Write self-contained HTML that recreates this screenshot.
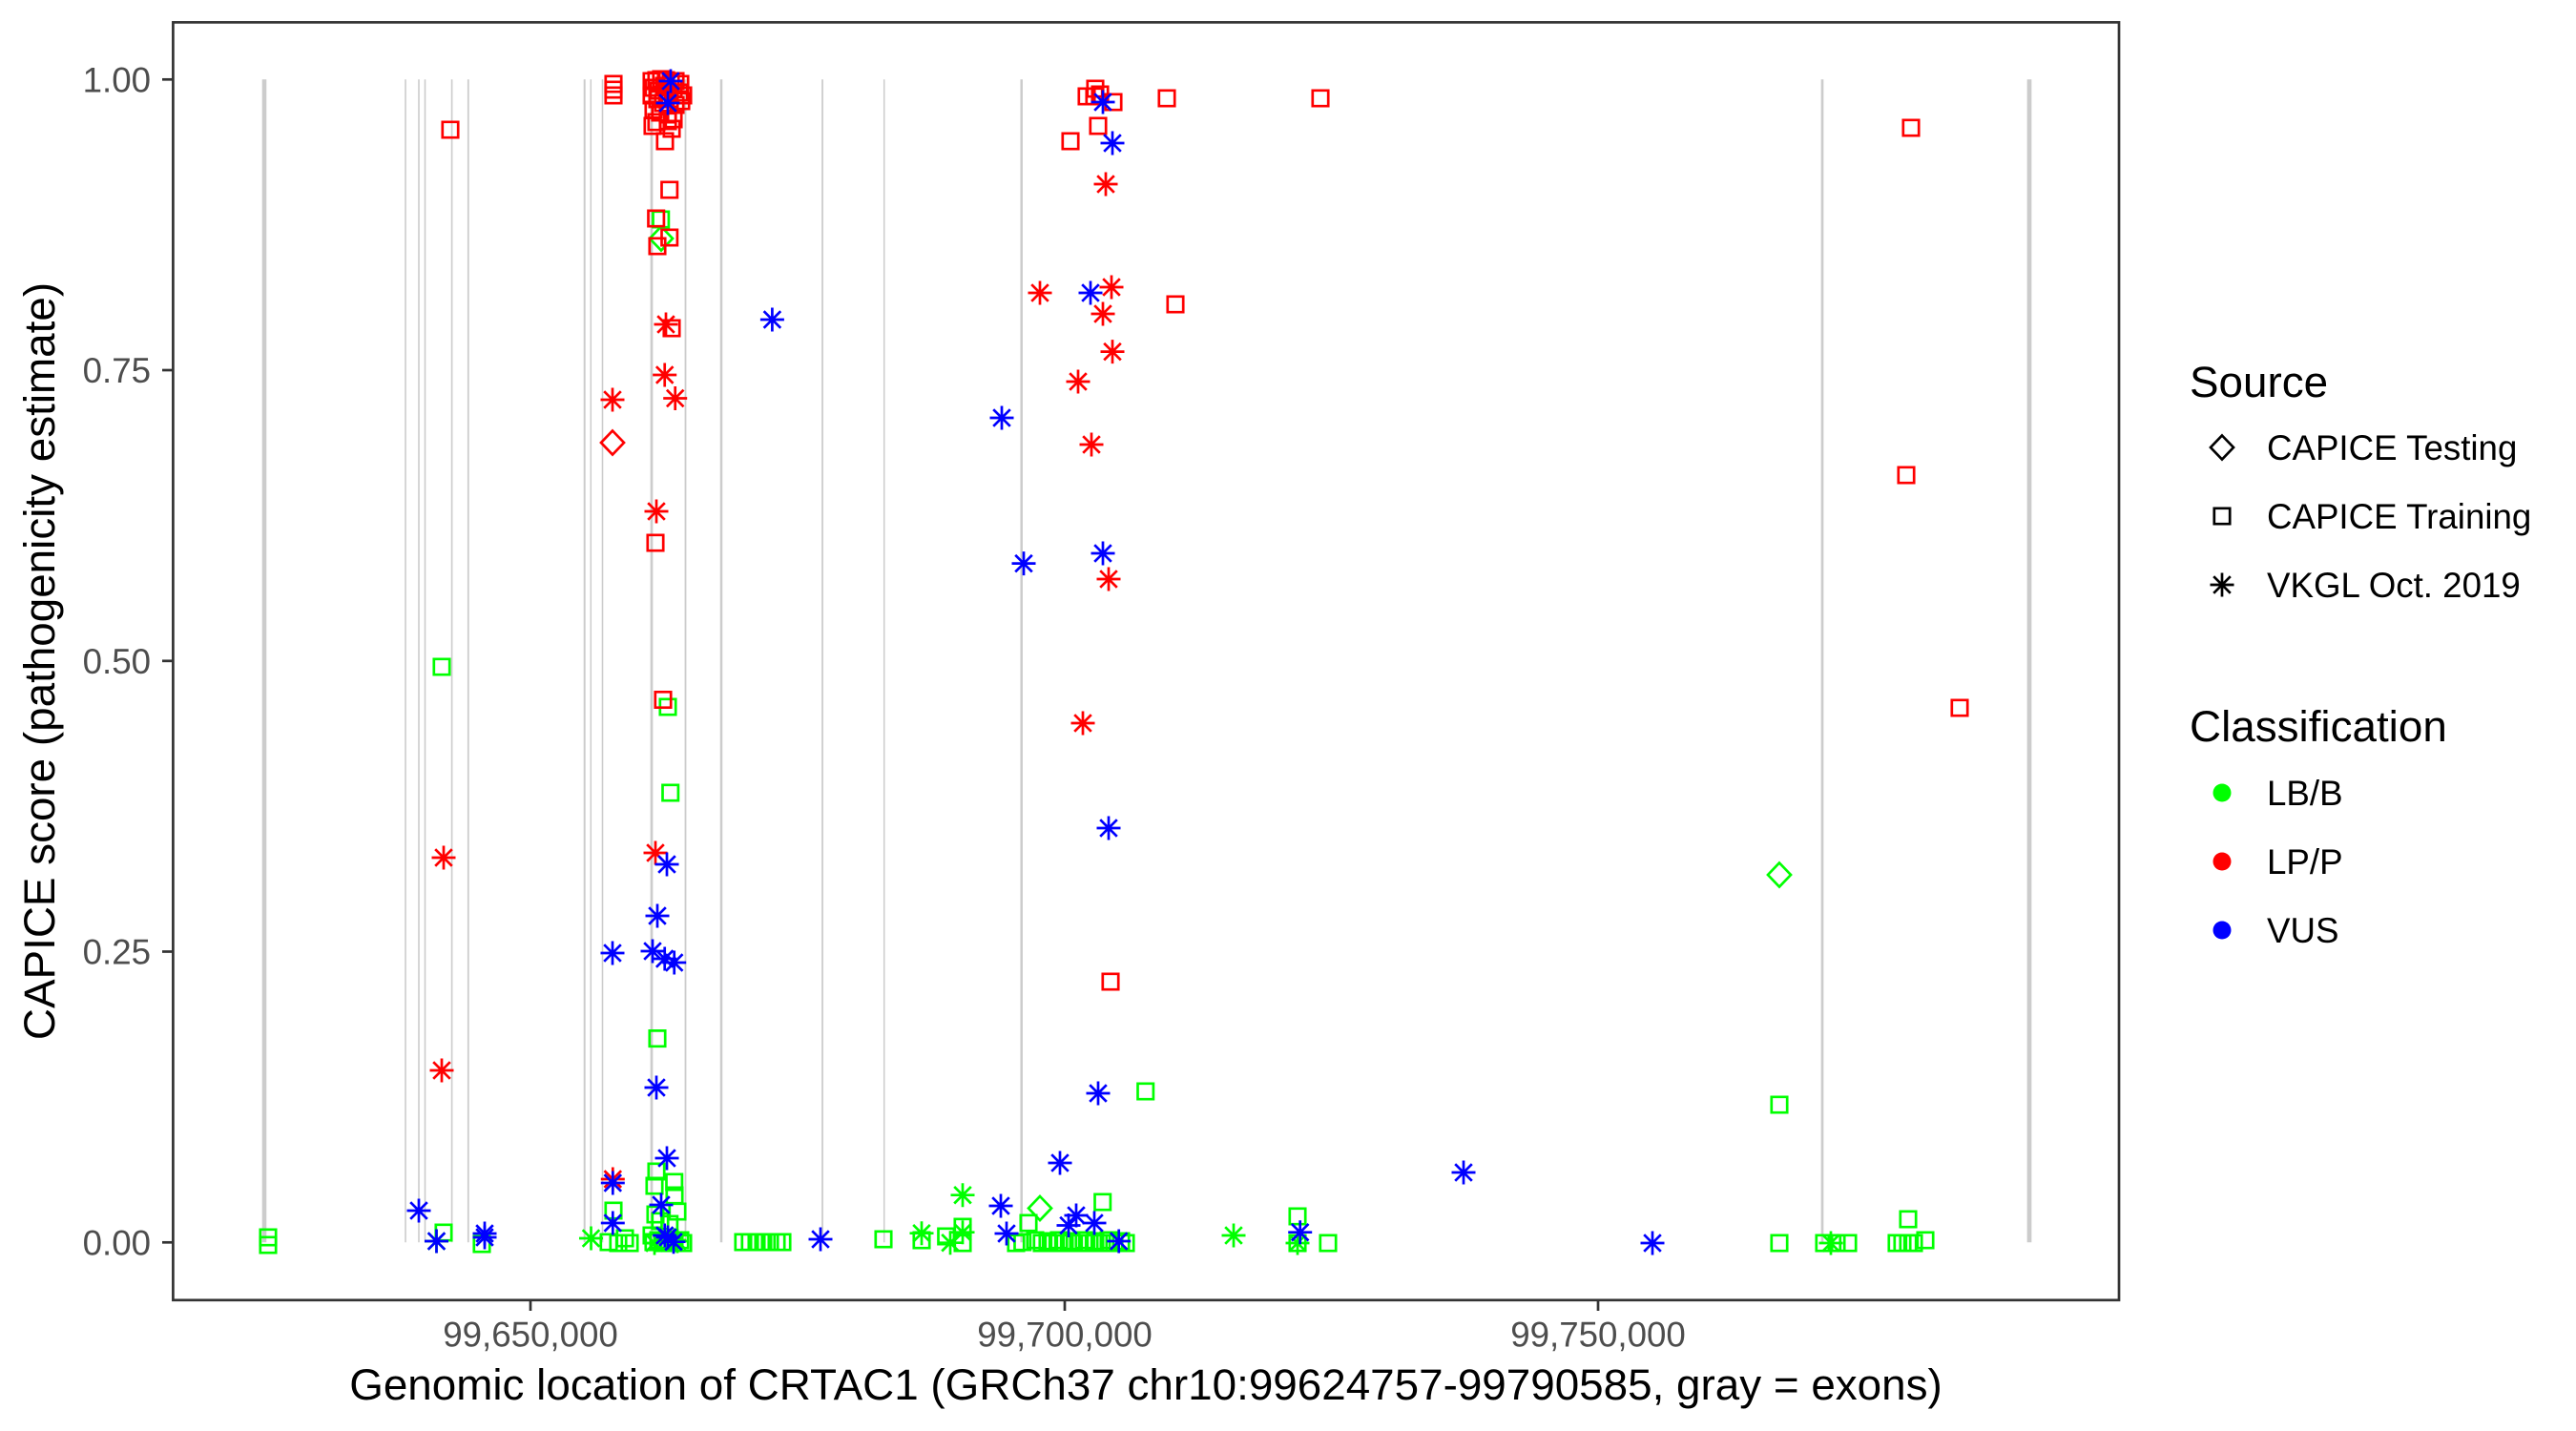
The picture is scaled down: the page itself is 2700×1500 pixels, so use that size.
<!DOCTYPE html>
<html><head><meta charset="utf-8"><style>
html,body{margin:0;padding:0;background:#fff;}
svg{display:block;font-family:"Liberation Sans",Arial,sans-serif;}
</style></head><body>
<svg width="2700" height="1500" viewBox="0 0 2700 1500" xmlns="http://www.w3.org/2000/svg">
<defs>
<path id="sq" d="M-8.2,-8.2h16.4v16.4h-16.4z" fill="none"/>
<path id="as" d="M-12.5,0H12.5M0,-12.5V12.5M-8.8,-8.8L8.8,8.8M-8.8,8.8L8.8,-8.8" fill="none"/>
<path id="di" d="M0,-12.5L12,0L0,12.5L-12,0Z" fill="none"/>
</defs>
<rect x="0" y="0" width="2700" height="1500" fill="#fff"/>
<!-- exons -->
<g stroke="#cccccc" fill="none">
<line x1="277" y1="83.3" x2="277" y2="1302.3" stroke-width="4.6"/>
<line x1="425" y1="83.3" x2="425" y2="1302.3" stroke-width="1.6"/>
<line x1="439" y1="83.3" x2="439" y2="1302.3" stroke-width="1.6"/>
<line x1="445.5" y1="83.3" x2="445.5" y2="1302.3" stroke-width="1.6"/>
<line x1="473.6" y1="83.3" x2="473.6" y2="1302.3" stroke-width="1.6"/>
<line x1="490.8" y1="83.3" x2="490.8" y2="1302.3" stroke-width="1.8"/>
<line x1="612.7" y1="83.3" x2="612.7" y2="1302.3" stroke-width="2"/>
<line x1="619.3" y1="83.3" x2="619.3" y2="1302.3" stroke-width="1.5"/>
<line x1="631.5" y1="83.3" x2="631.5" y2="1302.3" stroke-width="1.6"/>
<line x1="683" y1="83.3" x2="683" y2="1302.3" stroke-width="2.7"/>
<line x1="718.5" y1="83.3" x2="718.5" y2="1302.3" stroke-width="1.8"/>
<line x1="756" y1="83.3" x2="756" y2="1302.3" stroke-width="2.5"/>
<line x1="862" y1="83.3" x2="862" y2="1302.3" stroke-width="1.8"/>
<line x1="926.7" y1="83.3" x2="926.7" y2="1302.3" stroke-width="1.5"/>
<line x1="1070.7" y1="83.3" x2="1070.7" y2="1302.3" stroke-width="2.5"/>
<line x1="1910" y1="83.3" x2="1910" y2="1302.3" stroke-width="2.7"/>
<line x1="2127" y1="83.3" x2="2127" y2="1302.3" stroke-width="4.7"/>
</g>
<!-- green points -->
<g stroke="#00ff00" stroke-width="2.7" fill="none">
<use href="#sq" x="281" y="1297"/><use href="#sq" x="281" y="1305"/>
<use href="#sq" x="463" y="699"/>
<use href="#sq" x="465" y="1292"/><use href="#sq" x="505" y="1304"/>
<use href="#sq" x="643" y="1269"/><use href="#sq" x="638" y="1302"/><use href="#sq" x="648" y="1303"/><use href="#sq" x="655" y="1298"/><use href="#sq" x="660" y="1303"/>
<use href="#sq" x="692.7" y="230"/>
<use href="#sq" x="700" y="741"/><use href="#sq" x="702.7" y="831"/><use href="#sq" x="689" y="1088.6"/>
<use href="#sq" x="688" y="1228"/><use href="#sq" x="686" y="1243"/><use href="#sq" x="706.7" y="1239"/><use href="#sq" x="707" y="1253"/><use href="#sq" x="687" y="1273"/><use href="#sq" x="710" y="1270"/><use href="#sq" x="692" y="1280"/><use href="#sq" x="701.7" y="1283"/><use href="#sq" x="683" y="1295"/><use href="#sq" x="685" y="1302"/><use href="#sq" x="707" y="1300"/><use href="#sq" x="713" y="1300"/><use href="#sq" x="695" y="1303"/><use href="#sq" x="700" y="1301"/><use href="#sq" x="690" y="1300"/><use href="#sq" x="716" y="1303"/>
<use href="#sq" x="779" y="1302"/><use href="#sq" x="786" y="1302"/><use href="#sq" x="793" y="1302"/><use href="#sq" x="800" y="1302"/><use href="#sq" x="807" y="1302"/><use href="#sq" x="814" y="1302"/><use href="#sq" x="820" y="1302"/>
<use href="#sq" x="926" y="1299"/><use href="#sq" x="966" y="1300"/><use href="#sq" x="991.7" y="1296"/><use href="#sq" x="1009" y="1286"/><use href="#sq" x="1009" y="1303"/>
<use href="#sq" x="1071.7" y="1302"/><use href="#sq" x="1078" y="1282"/>
<use href="#sq" x="1065" y="1303"/><use href="#sq" x="1085" y="1300"/><use href="#sq" x="1092" y="1303"/><use href="#sq" x="1098" y="1301"/><use href="#sq" x="1104" y="1303"/><use href="#sq" x="1110" y="1300"/><use href="#sq" x="1116" y="1303"/><use href="#sq" x="1123" y="1301"/><use href="#sq" x="1130" y="1303"/><use href="#sq" x="1136" y="1300"/><use href="#sq" x="1142" y="1303"/><use href="#sq" x="1148" y="1301"/><use href="#sq" x="1155" y="1303"/><use href="#sq" x="1162" y="1300"/><use href="#sq" x="1168" y="1303"/><use href="#sq" x="1175" y="1301"/><use href="#sq" x="1180" y="1303"/>
<use href="#sq" x="1155.7" y="1260"/><use href="#sq" x="1200.7" y="1144"/>
<use href="#sq" x="1360" y="1275"/><use href="#sq" x="1360" y="1303"/><use href="#sq" x="1392" y="1303"/>
<use href="#sq" x="1865" y="1158"/><use href="#sq" x="1865" y="1303"/><use href="#sq" x="1912" y="1303"/><use href="#sq" x="1925" y="1303"/><use href="#sq" x="1937" y="1303"/>
<use href="#sq" x="2000" y="1278"/><use href="#sq" x="1988" y="1303"/><use href="#sq" x="1994" y="1303"/><use href="#sq" x="2000" y="1303"/><use href="#sq" x="2006" y="1303"/><use href="#sq" x="2018" y="1300"/>
<use href="#as" x="457.5" y="1301"/><use href="#as" x="619.5" y="1298"/><use href="#as" x="686" y="1303"/><use href="#as" x="706.7" y="1300"/><use href="#as" x="710" y="1301"/><use href="#as" x="966" y="1292.7"/><use href="#as" x="996" y="1302.7"/><use href="#as" x="1009" y="1291.7"/><use href="#as" x="1009" y="1252.7"/><use href="#as" x="1293" y="1295"/><use href="#as" x="1360" y="1303"/><use href="#as" x="1919" y="1303"/>
<use href="#di" x="693" y="250"/><use href="#di" x="1090" y="1266.5"/><use href="#di" x="1865" y="917"/>
</g>
<!-- red points -->
<g stroke="#ff0000" stroke-width="2.7" fill="none">
<use href="#sq" x="472" y="136"/><use href="#sq" x="643" y="88"/><use href="#sq" x="643" y="94"/><use href="#sq" x="643" y="100"/>
<use href="#sq" x="683" y="85"/><use href="#sq" x="688" y="84"/><use href="#sq" x="693" y="83"/><use href="#sq" x="698" y="84"/><use href="#sq" x="703" y="86"/><use href="#sq" x="708" y="85"/><use href="#sq" x="713" y="88"/><use href="#sq" x="685" y="92"/><use href="#sq" x="690" y="95"/><use href="#sq" x="696" y="90"/><use href="#sq" x="700" y="96"/><use href="#sq" x="706" y="93"/><use href="#sq" x="712" y="97"/><use href="#sq" x="716" y="100"/><use href="#sq" x="683" y="100"/><use href="#sq" x="689" y="104"/><use href="#sq" x="695" y="108"/><use href="#sq" x="702" y="104"/><use href="#sq" x="708" y="110"/><use href="#sq" x="714" y="106"/><use href="#sq" x="685" y="115"/><use href="#sq" x="692" y="118"/><use href="#sq" x="700" y="120"/><use href="#sq" x="706" y="125"/><use href="#sq" x="688" y="128"/><use href="#sq" x="684" y="132"/><use href="#sq" x="700" y="127"/><use href="#sq" x="697" y="148"/><use href="#sq" x="704" y="135"/>
<use href="#sq" x="701.7" y="199"/><use href="#sq" x="687.7" y="229"/><use href="#sq" x="701.7" y="249"/><use href="#sq" x="689" y="258"/><use href="#sq" x="704" y="344"/><use href="#sq" x="687" y="569"/><use href="#sq" x="695" y="733.5"/>
<use href="#sq" x="1148" y="93"/><use href="#sq" x="1147" y="101"/><use href="#sq" x="1153" y="99"/><use href="#sq" x="1167" y="107"/><use href="#sq" x="1139" y="101"/><use href="#sq" x="1223" y="103"/><use href="#sq" x="1151" y="132"/><use href="#sq" x="1122" y="148"/><use href="#sq" x="1232" y="319"/><use href="#sq" x="1164" y="1029"/><use href="#sq" x="1384" y="103"/>
<use href="#sq" x="2003" y="134"/><use href="#sq" x="1998" y="498"/><use href="#sq" x="2054" y="742"/>
<use href="#as" x="642" y="419"/><use href="#as" x="698" y="340"/><use href="#as" x="696.7" y="393"/><use href="#as" x="707.7" y="417.5"/><use href="#as" x="688" y="536"/><use href="#as" x="687" y="894"/><use href="#as" x="642.3" y="1236"/><use href="#as" x="465" y="899"/><use href="#as" x="463" y="1122"/>
<use href="#as" x="1159" y="193"/><use href="#as" x="1090" y="307"/><use href="#as" x="1165" y="301"/><use href="#as" x="1156" y="329"/><use href="#as" x="1166" y="368.6"/><use href="#as" x="1130" y="400"/><use href="#as" x="1144" y="466"/><use href="#as" x="1162" y="607"/><use href="#as" x="1135" y="758"/>
<use href="#di" x="642" y="464"/>
</g>
<!-- blue points -->
<g stroke="#0000ff" stroke-width="2.7" fill="none">
<use href="#as" x="703" y="85"/><use href="#as" x="700" y="108"/><use href="#as" x="809.4" y="335"/><use href="#as" x="699" y="906"/><use href="#as" x="689" y="960"/><use href="#as" x="642" y="999"/><use href="#as" x="684" y="997"/><use href="#as" x="696.7" y="1005"/><use href="#as" x="706.7" y="1009"/><use href="#as" x="688" y="1140"/><use href="#as" x="699" y="1214"/><use href="#as" x="642.3" y="1240"/><use href="#as" x="693" y="1263"/><use href="#as" x="642.3" y="1282"/><use href="#as" x="696.7" y="1295"/><use href="#as" x="706" y="1301.7"/><use href="#as" x="700" y="1297"/>
<use href="#as" x="439" y="1269"/><use href="#as" x="457.5" y="1301"/><use href="#as" x="508" y="1293"/><use href="#as" x="508" y="1297"/><use href="#as" x="860" y="1299"/>
<use href="#as" x="1156" y="107"/><use href="#as" x="1166" y="150"/><use href="#as" x="1143" y="307"/><use href="#as" x="1050" y="438"/><use href="#as" x="1073" y="590.6"/><use href="#as" x="1156" y="580"/><use href="#as" x="1162" y="868"/><use href="#as" x="1151" y="1146"/><use href="#as" x="1111" y="1219"/><use href="#as" x="1049" y="1264"/><use href="#as" x="1128" y="1274"/><use href="#as" x="1147" y="1282"/><use href="#as" x="1120" y="1284.5"/><use href="#as" x="1055" y="1293"/><use href="#as" x="1172.7" y="1301"/><use href="#as" x="1362.7" y="1291.7"/><use href="#as" x="1534" y="1229"/><use href="#as" x="1732" y="1303"/>
</g>
<!-- panel border -->
<rect x="181.4" y="23.4" width="2039.6" height="1339.4" fill="none" stroke="#333333" stroke-width="2.7"/>
<!-- ticks -->
<g stroke="#333333" stroke-width="2.7">
<line x1="170" y1="83.3" x2="181" y2="83.3"/>
<line x1="170" y1="388" x2="181" y2="388"/>
<line x1="170" y1="692.8" x2="181" y2="692.8"/>
<line x1="170" y1="997.5" x2="181" y2="997.5"/>
<line x1="170" y1="1302.3" x2="181" y2="1302.3"/>
<line x1="556" y1="1363" x2="556" y2="1374"/>
<line x1="1116" y1="1363" x2="1116" y2="1374"/>
<line x1="1675" y1="1363" x2="1675" y2="1374"/>
</g>
<g fill="#4d4d4d" font-size="36.7">
<text x="158" y="96.3" text-anchor="end">1.00</text>
<text x="158" y="401" text-anchor="end">0.75</text>
<text x="158" y="705.8" text-anchor="end">0.50</text>
<text x="158" y="1010.5" text-anchor="end">0.25</text>
<text x="158" y="1315.3" text-anchor="end">0.00</text>
<text x="556" y="1411.5" text-anchor="middle">99,650,000</text>
<text x="1116" y="1411.5" text-anchor="middle">99,700,000</text>
<text x="1675" y="1411.5" text-anchor="middle">99,750,000</text>
</g>
<g fill="#000" font-size="45.8">
<text x="1201" y="1467" text-anchor="middle">Genomic location of CRTAC1 (GRCh37 chr10:99624757-99790585, gray = exons)</text>
<text x="57" y="693" text-anchor="middle" transform="rotate(-90 57 693)">CAPICE score (pathogenicity estimate)</text>
<text x="2295" y="416">Source</text>
<text x="2295" y="777">Classification</text>
</g>
<!-- legend -->
<g stroke="#000" stroke-width="2.7" fill="none">
<use href="#di" x="2329" y="469"/>
<use href="#sq" x="2329" y="541"/>
<use href="#as" x="2329" y="613"/>
</g>
<circle cx="2329" cy="831" r="9.5" fill="#00ff00"/>
<circle cx="2329" cy="903" r="9.5" fill="#ff0000"/>
<circle cx="2329" cy="975" r="9.5" fill="#0000ff"/>
<g fill="#000" font-size="36.7">
<text x="2376" y="482">CAPICE Testing</text>
<text x="2376" y="554">CAPICE Training</text>
<text x="2376" y="626">VKGL Oct. 2019</text>
<text x="2376" y="844">LB/B</text>
<text x="2376" y="916">LP/P</text>
<text x="2376" y="988">VUS</text>
</g>
</svg>
</body></html>
